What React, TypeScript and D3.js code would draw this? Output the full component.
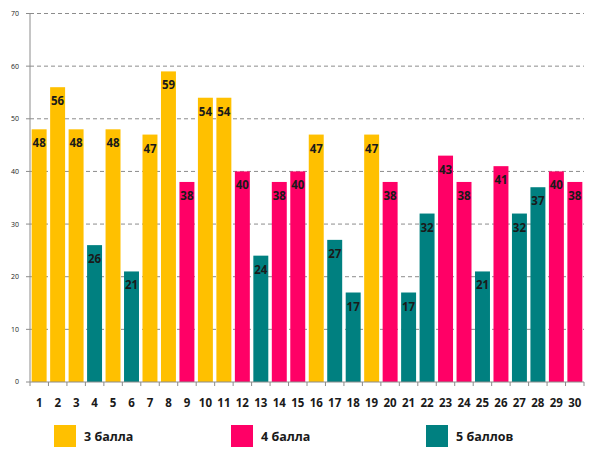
import React from "react";
import * as d3 from "d3";

const categories = Array.from({ length: 30 }, (_, i) => String(i + 1));
const values = [48, 56, 48, 26, 48, 21, 47, 59, 38, 54, 54, 40, 24, 38, 40, 47, 27, 17, 47, 38, 17, 32, 43, 38, 21, 41, 32, 37, 40, 38];
const grades = [3, 3, 3, 5, 3, 5, 3, 3, 4, 3, 3, 4, 5, 4, 4, 3, 5, 5, 3, 4, 5, 5, 4, 4, 5, 4, 5, 5, 4, 4];
const yTicks = [0, 10, 20, 30, 40, 50, 60, 70];
const legendLabels = ["3 балла", "4 балла", "5 баллов"];
const legendGrades = [3, 4, 5];

const colorOf: Record<number, string> = { 3: "#FFC000", 4: "#FF0066", 5: "#008080" };

export default function App() {
  const W = 590, H = 469;
  const left = 30, right = 584, top = 13.5, bottom = 382;
  const x = d3.scaleBand<string>().domain(categories).range([left, right]).paddingInner(0.19).paddingOuter(0.09);
  const xb = d3.scaleBand<string>().domain(categories).range([left, right]);
  const y = d3.scaleLinear().domain([0, 70]).range([bottom, top]);
  const font = "'Open Sans', 'DejaVu Sans', sans-serif";
  const legendX = [54, 231, 426];

  return (
    <svg width={W} height={H} style={{ position: "absolute", left: 0, top: 0, background: "#fff" }}>
      {yTicks.filter(t => t > 0).map(t => (
        <line key={"g" + t} x1={left} x2={right} y1={y(t)} y2={y(t)} stroke="#8c8c8c" strokeWidth={1} strokeDasharray="4,3" />
      ))}
      {yTicks.map(t => (
        <g key={"yt" + t}>
          <line x1={left - 4} x2={left} y1={y(t)} y2={y(t)} stroke="#8c8c8c" />
          <text x={19} y={y(t)} dy="0.35em" textAnchor="end" fontSize={7} fill="#222" fontFamily={font}>{t}</text>
        </g>
      ))}
      {categories.map((c, i) => (
        <rect key={"b" + c} x={x(c)} y={y(values[i])} width={x.bandwidth()} height={bottom - y(values[i])} fill={colorOf[grades[i]]} />
      ))}
      {categories.map((c, i) => (
        <text key={"l" + c} x={(x(c) as number) + x.bandwidth() / 2} y={y(values[i]) + 14} dy="0.35em" textAnchor="middle"
          fontSize={11.5} fontWeight="bold" fill="#1a1a1a" fontFamily={font}>{values[i]}</text>
      ))}
      <line x1={left} x2={left} y1={top} y2={bottom} stroke="#8c8c8c" />
      <line x1={left} x2={right} y1={bottom} y2={bottom} stroke="#8c8c8c" />
      {[...categories.map(c => xb(c) as number), right].map((px, i) => (
        <line key={"xt" + i} x1={px} x2={px} y1={bottom} y2={bottom + 4} stroke="#8c8c8c" />
      ))}
      {categories.map(c => (
        <text key={"xl" + c} x={(xb(c) as number) + xb.bandwidth() / 2} y={403} dy="0.35em" textAnchor="middle"
          fontSize={11.5} fontWeight="bold" fill="#1a1a1a" fontFamily={font}>{c}</text>
      ))}
      {legendGrades.map((g, i) => (
        <g key={"lg" + g}>
          <rect x={legendX[i]} y={425} width={22} height={22} fill={colorOf[g]} />
          <text x={legendX[i] + 30} y={437} dy="0.35em" fontSize={12.5} fontWeight="bold" fill="#1a1a1a" fontFamily={font}>{legendLabels[i]}</text>
        </g>
      ))}
    </svg>
  );
}
